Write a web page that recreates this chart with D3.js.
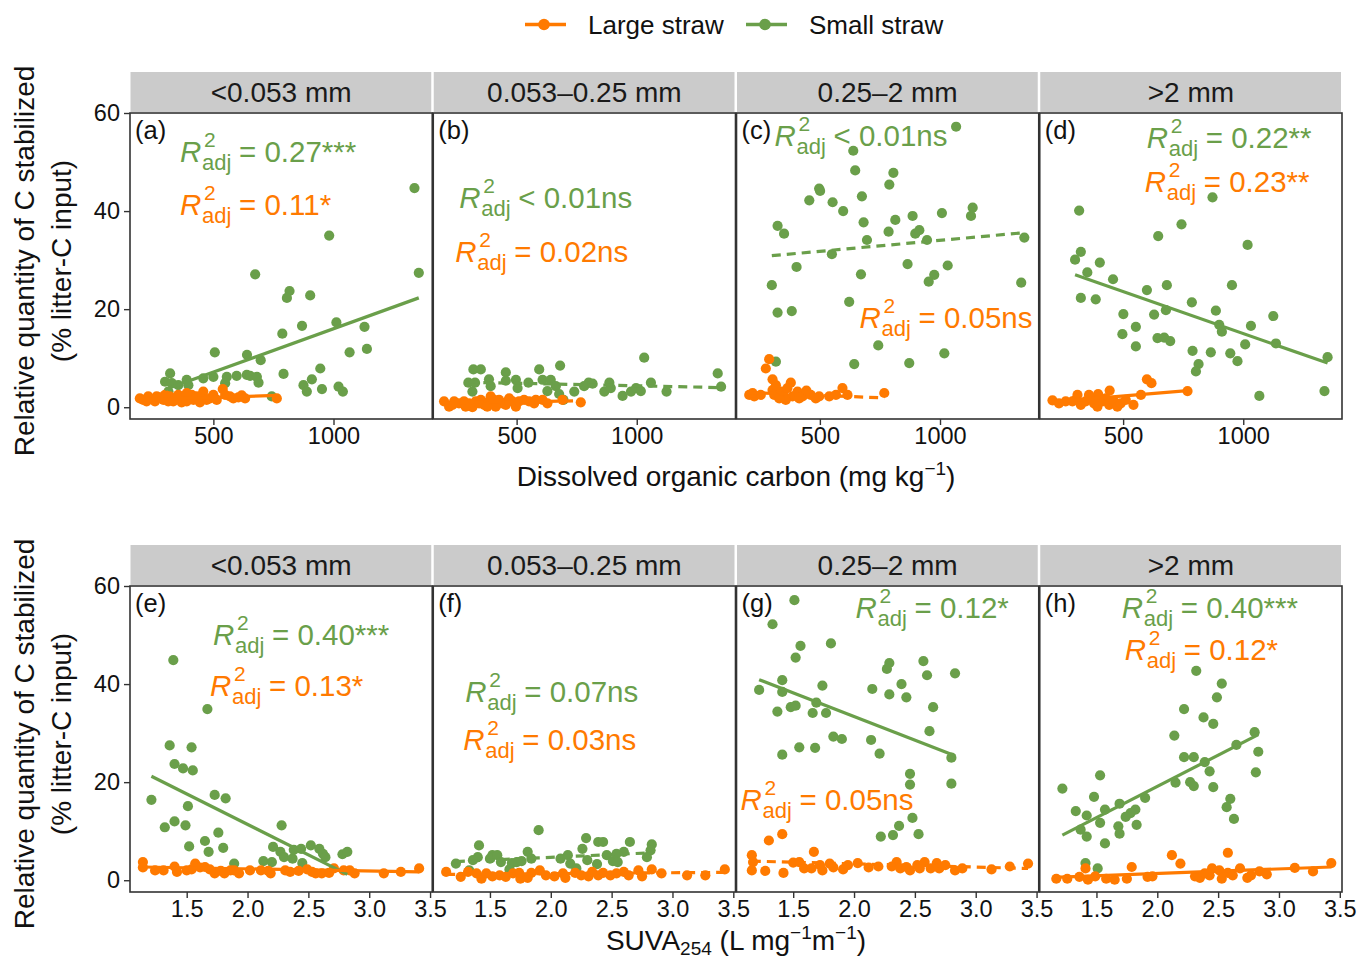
<!DOCTYPE html>
<html><head><meta charset="utf-8">
<script src="https://cdn.jsdelivr.net/npm/d3@7"></script>
<style>
body{margin:0;background:#fff;}
svg{display:block;font-family:"Liberation Sans",Arial,Helvetica,sans-serif;}
</style></head><body>
<svg id="chart" width="1357" height="958"></svg>
<script>
// ---------------- DATA ----------------
const fractions = ["<0.053 mm", "0.053\u20130.25 mm", "0.25\u20132 mm", ">2 mm"];
const panelLetters = ["(a)","(b)","(c)","(d)","(e)","(f)","(g)","(h)"];
const seriesNames = ["Large straw", "Small straw"];
const yTicks = [0, 20, 40, 60];
const docTicks = [500, 1000];
const suvaTicks = [1.5, 2.0, 2.5, 3.0, 3.5];

// DOC (mg/kg) vs relative C stabilized (%)
const docSmallA = [[1337,44.7],[982,35.0],[1355,27.4],[674,27.1],[817,23.7],[806,22.3],[903,22.8],[869,16.6],[1012,17.3],[1129,16.4],[787,15.0],[1139,11.9],[1067,11.2],[506,11.2],[640,10.7],[697,9.6],[792,6.8],[945,7.9],[910,5.7],[875,4.5],[889,3.2],[952,3.7],[1021,4.2],[1039,3.2],[743,2.2],[320,6.9],[299,5.2],[327,4.9],[354,4.5],[389,5.6],[396,4.5],[458,5.9],[500,6.2],[556,6.2],[549,4.9],[597,6.4],[639,6.6],[653,6.4],[681,6.2],[688,5.0],[313,3.2]];
const docLargeA = [[208,1.5],[229,2.2],[257,1.2],[278,2.0],[312,1.2],[319,2.2],[340,1.8],[368,1.0],[382,2.2],[410,2.5],[417,1.5],[451,1.8],[458,3.2],[472,1.5],[486,1.8],[539,3.7],[569,2.2],[604,2.0],[618,2.4],[764,1.8],[222,1.2],[264,2.2],[292,1.5],[333,1.2],[354,2.5],[389,1.2],[431,2.2],[444,1.0],[500,2.5],[514,1.5],[583,1.8],[632,1.8],[389,2.9],[299,2.5],[194,1.8],[549,2.5]];
const docSmallB = [[1031,10.1],[320,7.7],[351,7.7],[455,7.1],[594,7.7],[681,8.5],[1337,6.9],[1351,4.2],[299,5.0],[327,5.0],[385,5.7],[392,4.3],[316,3.2],[497,5.6],[504,3.9],[549,5.0],[608,5.6],[642,5.6],[628,3.3],[663,4.3],[677,2.7],[695,1.5],[740,3.2],[781,4.3],[800,5.0],[816,4.8],[865,3.2],[886,5.0],[892,3.9],[941,2.3],[976,3.2],[997,3.9],[1017,3.3],[1059,5.0],[1124,3.2],[455,5.4]];
const docLargeB = [[198,1.2],[219,0.1],[240,1.2],[260,0.8],[281,1.2],[302,0.8],[316,0.0],[330,1.2],[351,1.5],[365,0.5],[385,1.2],[406,1.5],[413,0.1],[441,0.8],[469,1.8],[483,1.2],[497,0.1],[531,1.5],[552,1.2],[573,0.8],[608,1.5],[628,0.8],[691,1.5],[767,1.0],[233,0.5],[288,0.1],[344,0.8],[378,0.1],[427,1.5],[455,0.5],[510,1.2],[462,1.2],[392,2.2],[580,1.5]];
const docSmallC = [[1067,57.2],[639,52.3],[647,48.3],[806,47.8],[789,45.4],[497,44.6],[501,44.1],[456,42.2],[675,43.0],[553,41.8],[597,40.0],[1136,40.7],[1008,39.6],[1129,39.0],[886,39.0],[814,38.2],[682,37.7],[324,37.0],[351,35.4],[786,35.8],[897,35.4],[914,36.1],[946,34.1],[696,34.1],[1351,34.6],[550,31.2],[865,29.2],[403,28.6],[1032,28.9],[976,27.0],[953,25.6],[671,27.1],[300,24.9],[1338,25.4],[324,19.3],[383,19.6],[622,21.5],[743,12.6],[643,8.8],[872,9.0],[1018,11.0],[317,9.3]];
const docLargeC = [[289,9.8],[275,7.9],[303,5.7],[379,5.0],[206,2.5],[227,2.2],[254,2.5],[303,3.5],[310,2.5],[338,3.2],[351,2.2],[365,3.9],[386,2.2],[407,3.2],[428,2.2],[444,3.4],[462,2.5],[483,1.8],[539,2.2],[567,2.5],[594,3.9],[615,2.5],[768,2.9],[358,1.5],[331,1.8],[414,1.8],[497,2.2],[220,2.9],[317,4.5]];
const docSmallD = [[872,42.8],[317,40.1],[743,37.3],[646,34.9],[1018,33.1],[324,31.7],[300,30.1],[403,29.5],[351,27.5],[458,26.1],[599,23.9],[682,24.9],[953,24.9],[324,22.3],[386,22.0],[786,21.4],[886,19.7],[678,19.8],[629,18.9],[501,19.0],[1125,18.6],[900,16.8],[911,15.4],[1032,16.6],[553,16.4],[497,14.9],[643,14.1],[671,14.2],[696,13.5],[1008,12.8],[1136,13.0],[553,12.4],[1351,10.2],[789,11.5],[865,11.2],[946,11.0],[976,9.4],[814,8.8],[803,7.3],[1338,3.3],[1067,2.3]];
const docLargeD = [[599,5.7],[618,4.9],[444,3.4],[396,2.7],[768,3.3],[574,2.5],[310,2.5],[206,1.4],[233,0.8],[261,1.2],[303,1.5],[324,0.5],[344,1.2],[365,1.8],[379,0.8],[393,0.1],[414,1.2],[428,1.8],[442,0.5],[462,1.2],[476,0.1],[490,0.8],[543,0.5],[511,1.5],[289,1.2],[358,2.5],[400,1.5]];

// SUVA254 (L/mg/m) vs relative C stabilized (%)
const suvaSmallE = [[1.39,44.9],[1.67,34.9],[1.36,27.5],[1.54,27.1],[1.40,23.7],[1.47,22.8],[1.55,22.4],[1.73,17.4],[1.82,16.7],[1.21,16.4],[1.51,15.1],[1.40,12.0],[1.49,11.2],[1.32,10.8],[2.28,11.2],[1.76,9.7],[1.65,8.0],[1.52,6.9],[1.68,5.8],[1.80,6.6],[1.89,3.4],[2.13,3.9],[2.20,3.7],[2.21,6.8],[2.27,5.8],[2.30,4.7],[2.37,4.4],[2.38,6.2],[2.44,6.4],[2.45,3.5],[2.52,7.1],[2.59,6.4],[2.62,5.4],[2.64,4.7],[2.78,5.3],[2.82,5.8]];
const suvaLargeE = [[1.14,3.7],[1.14,2.6],[1.24,2.0],[1.31,2.0],[1.40,2.8],[1.42,1.7],[1.50,2.0],[1.54,2.2],[1.57,3.4],[1.61,2.6],[1.65,2.7],[1.69,2.2],[1.73,1.4],[1.78,1.9],[1.81,1.4],[1.86,2.0],[1.93,1.4],[2.02,2.0],[2.11,2.0],[2.17,1.9],[2.31,2.0],[2.35,1.7],[2.42,1.9],[2.49,2.2],[2.53,1.7],[2.56,1.4],[2.61,1.4],[2.67,1.5],[2.71,2.4],[2.79,2.0],[2.84,2.0],[2.88,1.4],[3.12,1.4],[3.26,1.7],[3.41,2.4],[1.89,2.0],[2.19,1.4]];
const suvaSmallF = [[1.90,10.2],[2.29,8.6],[2.39,7.8],[2.43,7.8],[2.65,7.8],[2.83,7.3],[1.41,7.1],[1.81,5.8],[2.26,6.4],[2.60,5.8],[2.82,6.1],[1.40,4.7],[1.52,5.1],[1.50,4.4],[1.56,5.1],[1.22,3.4],[1.36,4.1],[1.59,3.7],[1.68,3.5],[1.72,3.7],[1.76,3.9],[1.84,4.4],[2.14,5.1],[2.16,3.4],[2.30,4.1],[2.38,3.3],[2.46,5.1],[2.51,3.9],[2.54,5.4],[2.79,4.7],[1.66,2.2],[1.33,2.0],[2.21,2.4],[2.55,3.7],[2.08,4.4]];
const suvaLargeF = [[1.14,1.7],[1.26,0.7],[1.32,1.7],[1.39,1.4],[1.43,0.3],[1.47,1.4],[1.52,0.8],[1.58,1.0],[1.63,0.7],[1.69,1.4],[1.74,1.5],[1.75,0.3],[1.81,0.5],[1.84,1.5],[1.91,2.0],[1.96,1.0],[2.03,0.8],[2.10,1.4],[2.20,1.5],[2.31,0.8],[2.34,1.7],[2.39,1.0],[2.43,1.5],[2.49,1.0],[2.54,1.4],[2.60,1.7],[2.64,1.0],[2.72,2.0],[2.75,0.8],[2.83,2.2],[2.91,1.4],[3.12,1.0],[3.27,1.0],[3.43,2.2],[2.12,0.5],[2.25,1.0]];
const suvaSmallG = [[1.51,57.1],[1.33,52.2],[1.81,48.3],[1.56,47.8],[1.52,45.4],[2.57,44.7],[2.29,44.3],[2.27,43.1],[2.83,42.2],[2.60,41.8],[1.41,40.8],[2.39,40.0],[1.74,39.7],[1.22,38.8],[2.15,39.0],[1.41,38.4],[2.29,37.9],[2.43,37.3],[1.69,36.2],[1.48,35.3],[1.52,35.6],[2.65,35.3],[1.37,34.4],[1.66,34.1],[1.77,34.1],[2.62,30.4],[1.83,29.3],[1.90,28.8],[2.14,28.6],[1.55,27.1],[1.68,27.0],[1.41,25.6],[2.21,25.8],[2.80,25.0],[2.46,21.7],[2.46,19.5],[2.80,19.7],[2.48,12.7],[2.37,11.1],[2.32,9.2],[2.22,8.9],[2.53,9.4]];
const suvaLargeG = [[1.41,9.4],[1.30,8.1],[1.67,5.8],[1.16,5.1],[1.17,3.7],[1.50,3.6],[1.55,3.7],[1.59,2.4],[1.65,2.4],[1.72,3.1],[1.74,2.0],[1.80,3.4],[1.83,2.6],[1.91,2.2],[1.95,3.1],[2.03,3.5],[2.12,2.6],[2.20,2.8],[2.35,3.7],[2.38,2.4],[2.43,2.7],[2.46,2.0],[2.52,3.1],[2.54,2.4],[2.58,3.7],[2.63,2.4],[2.68,3.5],[2.70,2.4],[2.75,3.1],[2.83,2.0],[2.89,2.4],[3.13,2.2],[3.28,2.8],[3.43,3.4],[1.16,2.0],[1.27,1.9],[1.42,1.5],[2.31,2.8]];
const suvaSmallH = [[2.32,42.7],[2.53,40.1],[2.49,37.3],[2.22,34.9],[2.38,33.2],[2.46,31.9],[2.80,30.2],[2.14,29.5],[2.65,27.6],[2.83,26.2],[2.22,25.1],[2.30,25.1],[2.39,24.1],[2.43,22.2],[2.81,22.0],[1.53,21.4],[2.15,19.9],[2.27,20.0],[2.30,19.2],[2.46,19.0],[1.22,18.7],[1.48,17.0],[1.90,16.8],[2.60,16.6],[1.69,15.6],[2.57,14.9],[1.33,14.1],[1.57,14.4],[1.82,14.4],[1.78,13.7],[1.42,13.2],[1.74,12.9],[2.63,12.5],[1.53,11.7],[1.83,11.3],[1.68,11.0],[1.37,10.3],[1.69,9.5],[1.42,8.9],[1.57,7.5],[1.41,3.5],[1.51,2.4]];
const suvaLargeH = [[2.12,5.1],[2.58,5.6],[2.19,3.4],[1.79,2.7],[1.41,2.4],[2.45,2.4],[3.43,3.5],[3.13,2.5],[2.68,2.4],[2.84,1.8],[2.51,2.0],[1.17,0.3],[1.26,0.3],[1.36,0.7],[1.43,0.1],[1.49,0.8],[1.58,0.3],[1.65,0.1],[1.75,0.3],[1.92,0.7],[1.96,0.8],[2.31,0.8],[2.35,0.5],[2.39,1.4],[2.43,1.0],[2.53,0.3],[2.58,1.5],[2.62,1.0],[2.74,0.5],[2.77,1.0],[2.90,1.2],[3.28,1.8]];

// fitted regression lines: [x start, y start, x end, y end]
const fitSmall = [[299,3.6,1355,22.3],[299,5.1,1351,4.0],[300,30.9,1351,35.6],[300,27.0,1351,9.0],[1.21,21.2,2.82,1.2],[1.22,3.8,2.83,5.6],[1.22,40.9,2.83,25.4],[1.22,9.2,2.83,29.7]];
const fitLarge = [[194,1.5,764,2.4],[198,0.9,767,1.3],[206,3.0,768,1.9],[206,1.1,768,3.4],[1.14,2.7,3.41,1.7],[1.14,1.2,3.43,1.6],[1.16,3.9,3.43,2.4],[1.15,0.6,3.43,2.7]];
const sigSmall = [true,false,false,true,true,false,true,true];
const sigLarge = [true,false,false,true,true,false,false,true];
const r2SmallText = ["= 0.27***","< 0.01ns","< 0.01ns","= 0.22**","= 0.40***","= 0.07ns","= 0.12*","= 0.40***"];
const r2LargeText = ["= 0.11*","= 0.02ns","= 0.05ns","= 0.23**","= 0.13*","= 0.03ns","= 0.05ns","= 0.12*"];

// ---------------- LAYOUT / STYLE ----------------
const smallData = [docSmallA, docSmallB, docSmallC, docSmallD, suvaSmallE, suvaSmallF, suvaSmallG, suvaSmallH];
const largeData = [docLargeA, docLargeB, docLargeC, docLargeD, suvaLargeE, suvaLargeF, suvaLargeG, suvaLargeH];
const C_LARGE = "#FF7A00", C_SMALL = "#6A9F4A";
const FONT_TICK = 23.5, FONT_STRIP = 28, FONT_TITLE = 28, FONT_R2 = 29.5;
const PT_R = 5.1;
const L = {left:130, right:1342, gap:1,
  rows:[{stripTop:72, top:113, bottom:419}, {stripTop:545, top:586, bottom:892}]};
const pw = (L.right - L.left - 3*L.gap) / 4;
// annotation offsets relative to panel (small-x, small-baseline, large-x, large-baseline)
const annotPos = [[50,49,50,102],[26,95,22,149],[38,33,123,215],[107,35,105,79],
                  [83,59,80,110],[32,116,30,164],[119,32,4,224],[82,32,85,74]];

const svg = d3.select("#chart");
const yDomain = [-2.4, 60];
const docDomain = [153, 1411];
const suvaDomain = [1.034, 3.518];

const defs = svg.append("defs");

function r2Label(g, x, y, color, rest){
  const t = g.append("g").attr("transform", `translate(${x},${y})`).attr("fill", color);
  t.append("text").attr("font-style","italic").attr("font-size", FONT_R2).text("R");
  t.append("text").attr("x", 24).attr("y", -15).attr("font-size", 21).text("2");
  t.append("text").attr("x", 22).attr("y", 8).attr("font-size", 22).text("adj");
  t.append("text").attr("x", 59).attr("font-size", FONT_R2).text(rest);
}

for (let i = 0; i < 8; i++){
  const row = i < 4 ? 0 : 1, col = i % 4;
  const R = L.rows[row];
  const x0 = L.left + col*(pw + L.gap);
  const x = d3.scaleLinear().domain(row === 0 ? docDomain : suvaDomain).range([x0, x0 + pw]);
  const y = d3.scaleLinear().domain(yDomain).range([R.bottom, R.top]);
  const g = svg.append("g");

  // strip
  g.append("rect").attr("x", x0 + 0.5).attr("y", R.stripTop).attr("width", pw - 1.5)
    .attr("height", R.top - R.stripTop - 1).attr("fill", "#CBCBCB");
  g.append("text").attr("x", x0 + pw/2).attr("y", R.stripTop + 30)
    .attr("text-anchor","middle").attr("font-size", FONT_STRIP).attr("fill","#1a1a1a")
    .text(fractions[col]);

  // clip
  const cid = "clip" + i;
  defs.append("clipPath").attr("id", cid).append("rect")
    .attr("x", x0).attr("y", R.top).attr("width", pw).attr("height", R.bottom - R.top);
  const pg = g.append("g").attr("clip-path", `url(#${cid})`);

  // points
  pg.selectAll("circle.s").data(smallData[i]).join("circle").attr("class","s")
    .attr("cx", d => x(d[0])).attr("cy", d => y(d[1])).attr("r", PT_R).attr("fill", C_SMALL);
  pg.selectAll("circle.l").data(largeData[i]).join("circle").attr("class","l")
    .attr("cx", d => x(d[0])).attr("cy", d => y(d[1])).attr("r", PT_R).attr("fill", C_LARGE);

  // fit lines
  const fs = fitSmall[i], fl = fitLarge[i];
  pg.append("line").attr("x1", x(fs[0])).attr("y1", y(fs[1])).attr("x2", x(fs[2])).attr("y2", y(fs[3]))
    .attr("stroke", C_SMALL).attr("stroke-width", 3.2)
    .attr("stroke-dasharray", sigSmall[i] ? null : "9,6");
  pg.append("line").attr("x1", x(fl[0])).attr("y1", y(fl[1])).attr("x2", x(fl[2])).attr("y2", y(fl[3]))
    .attr("stroke", C_LARGE).attr("stroke-width", 3.2)
    .attr("stroke-dasharray", sigLarge[i] ? null : "9,6");

  // border
  g.append("rect").attr("x", x0).attr("y", R.top).attr("width", pw).attr("height", R.bottom - R.top)
    .attr("fill","none").attr("stroke","#333").attr("stroke-width",1.6);

  // panel letter
  g.append("text").attr("x", x0 + 5).attr("y", R.top + 26).attr("font-size", 25.5)
    .attr("fill","#111").text(panelLetters[i]);

  // annotations
  const a = annotPos[i];
  r2Label(g, x0 + a[0], R.top + a[1], C_SMALL, r2SmallText[i]);
  r2Label(g, x0 + a[2], R.top + a[3], C_LARGE, r2LargeText[i]);

  // x axis
  const xa = d3.axisBottom(x).tickValues(row === 0 ? docTicks : suvaTicks)
    .tickFormat(row === 0 ? d3.format("d") : d3.format(".1f"))
    .tickSize(6).tickSizeOuter(0).tickPadding(2);
  const xg = g.append("g").attr("transform", `translate(0,${R.bottom})`).call(xa);
  xg.select(".domain").remove();
  xg.selectAll("line").attr("stroke","#333").attr("stroke-width",1.4);
  xg.selectAll("text").attr("font-size", FONT_TICK).attr("fill","#111")
    .attr("font-family", '"Liberation Sans",Arial,sans-serif');

  // y axis
  if (col === 0){
    const ya = d3.axisLeft(y).tickValues(yTicks).tickSize(6).tickSizeOuter(0).tickPadding(4);
    const yg = g.append("g").attr("transform", `translate(${x0},0)`).call(ya);
    yg.select(".domain").remove();
    yg.selectAll("line").attr("stroke","#333").attr("stroke-width",1.4);
    yg.selectAll("text").attr("font-size", FONT_TICK).attr("fill","#111")
      .attr("font-family", '"Liberation Sans",Arial,sans-serif');
  }
}

// y-axis titles
L.rows.forEach(R => {
  const cy = (R.top + R.bottom)/2 - 5;
  svg.append("text").attr("transform", `translate(24,${cy}) rotate(-90)`)
    .attr("text-anchor","middle").attr("dominant-baseline","central")
    .attr("font-size", FONT_TITLE).attr("fill","#111")
    .text("Relative quantity of C stabilized");
  svg.append("text").attr("transform", `translate(61,${cy}) rotate(-90)`)
    .attr("text-anchor","middle").attr("dominant-baseline","central")
    .attr("font-size", FONT_TITLE).attr("fill","#111")
    .text("(% litter-C input)");
});

// x-axis titles
const midX = (L.left + L.right)/2;
const t1 = svg.append("text").attr("x", midX).attr("y", 486).attr("text-anchor","middle")
  .attr("font-size", FONT_TITLE).attr("fill","#111");
t1.append("tspan").text("Dissolved organic carbon (mg kg");
t1.append("tspan").attr("dy",-11).attr("font-size",19).text("\u22121");
t1.append("tspan").attr("dy",11).text(")");

const t2 = svg.append("text").attr("x", midX).attr("y", 950).attr("text-anchor","middle")
  .attr("font-size", FONT_TITLE).attr("fill","#111");
t2.append("tspan").text("SUVA");
t2.append("tspan").attr("dy",5).attr("font-size",19).text("254");
t2.append("tspan").attr("dy",-5).text(" (L mg");
t2.append("tspan").attr("dy",-11).attr("font-size",19).text("\u22121");
t2.append("tspan").attr("dy",11).text("m");
t2.append("tspan").attr("dy",-11).attr("font-size",19).text("\u22121");
t2.append("tspan").attr("dy",11).text(")");

// legend
const legend = svg.append("g");
const legItems = [{name: seriesNames[0], color: C_LARGE, x: 525}, {name: seriesNames[1], color: C_SMALL, x: 746}];
legItems.forEach(it => {
  legend.append("line").attr("x1", it.x).attr("x2", it.x + 41).attr("y1", 24.5).attr("y2", 24.5)
    .attr("stroke", it.color).attr("stroke-width", 3.4);
  legend.append("circle").attr("cx", it.x + 19).attr("cy", 24.5).attr("r", 5.8).attr("fill", it.color);
  legend.append("text").attr("x", it.x + 63).attr("y", 33.5).attr("font-size", 26).attr("fill","#111").text(it.name);
});
</script>
</body></html>
